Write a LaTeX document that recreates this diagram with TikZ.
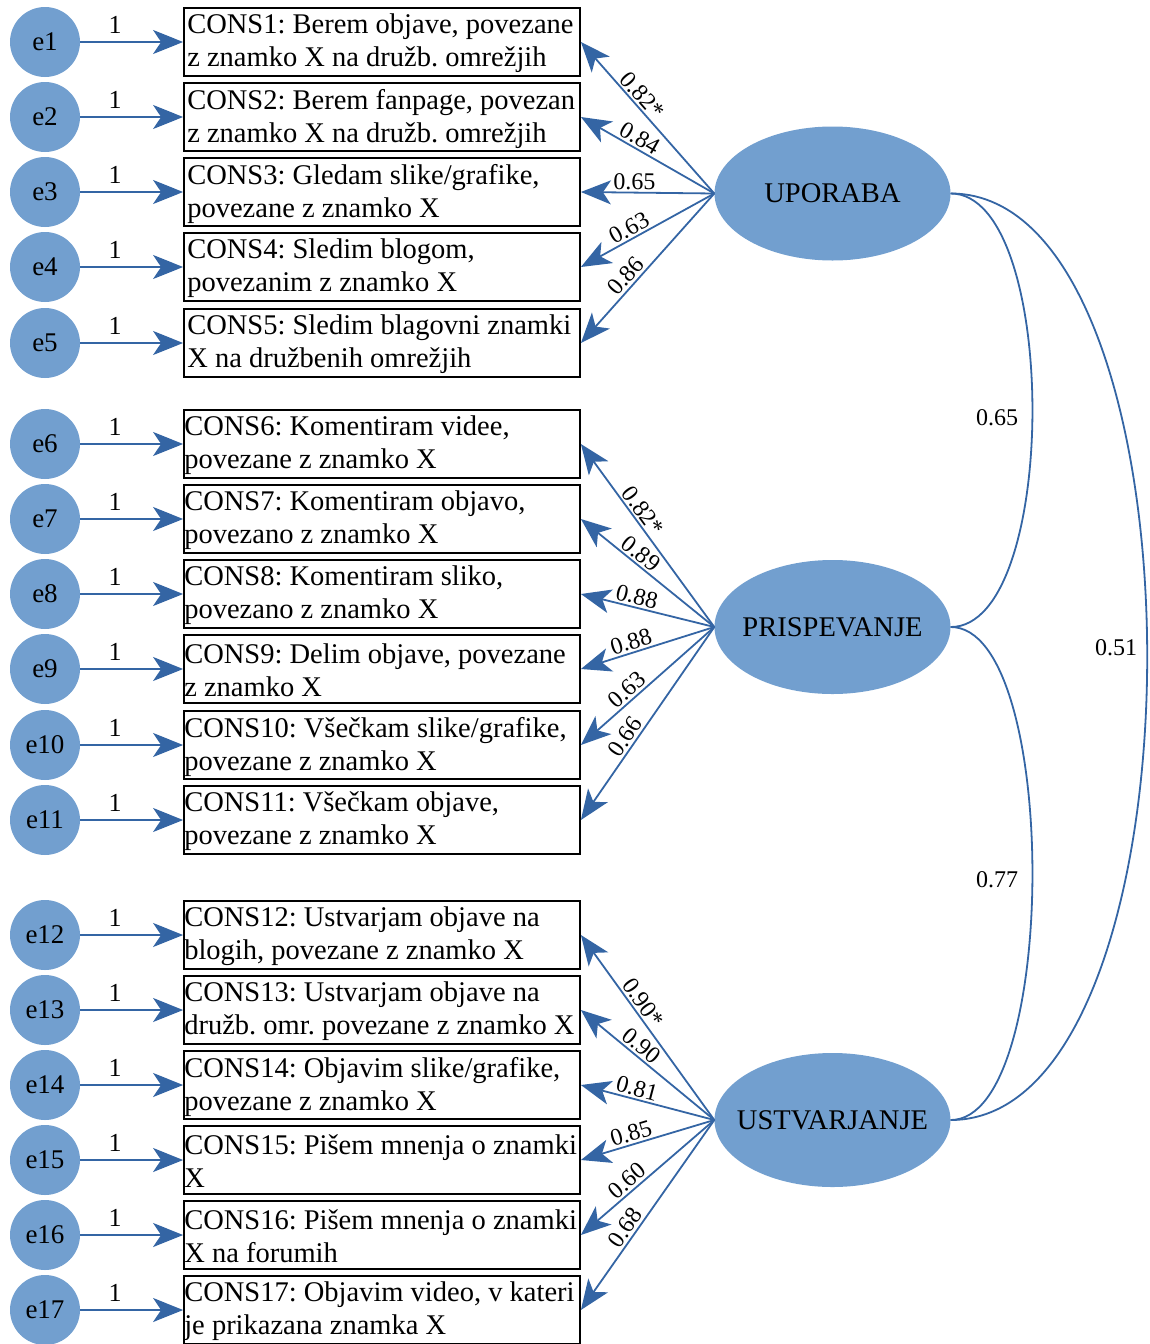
\documentclass[tikz,border=0pt]{standalone}
\usepackage{fontspec}
\setmainfont{Liberation Serif}
\usetikzlibrary{arrows.meta,shapes.geometric}
\definecolor{lineblue}{HTML}{3465A4}
\definecolor{fillblue}{HTML}{729FCF}
\begin{document}
\frenchspacing
\begin{tikzpicture}[x=1pt,y=-1pt,
 errc/.style={circle,fill=fillblue,minimum size=70pt,inner sep=0pt,font=\fontsize{27}{30}\selectfont},
 item/.style={draw=black,line width=1.8pt,minimum width=396pt,minimum height=68pt,inner sep=0pt},
 itext/.style={anchor=west,align=left,inner sep=0pt,font=\fontsize{28.5}{33}\selectfont\frenchspacing},
 latent/.style={ellipse,fill=fillblue,minimum width=236pt,minimum height=134pt,inner sep=0pt},
 ltext/.style={inner sep=0pt,font=\fontsize{28.5}{30}\selectfont},
 arr/.style={draw=lineblue,line width=1.8pt,-{Stealth[length=30pt,width=24pt,inset=8pt]}},
 cov/.style={draw=lineblue,line width=1.8pt},
 lab/.style={font=\fontsize{24}{26}\selectfont,inner sep=2pt},
 one/.style={font=\fontsize{26}{28}\selectfont,inner sep=0pt}
]
\useasboundingbox (0,0) rectangle (1150,1344);

% latent variables
\node[latent] (U) at (832.5,193.5) {};
\node[latent] (P) at (832.5,627) {};
\node[latent] (S) at (832.5,1120) {};
\node[ltext] (Ut) at (U.center) {UPORABA};
\node[ltext] (Pt) at (P.center) {PRISPEVANJE};
\node[ltext] (St) at (S.center) {USTVARJANJE};

% items
\node[item] (c1) at (382,42) {};
\node[item] (c2) at (382,117) {};
\node[item] (c3) at (382,192) {};
\node[item] (c4) at (382,267) {};
\node[item] (c5) at (382,343) {};
\node[item] (c6) at (382,444) {};
\node[item] (c7) at (382,519) {};
\node[item] (c8) at (382,594) {};
\node[item] (c9) at (382,669) {};
\node[item] (c10) at (382,745) {};
\node[item] (c11) at (382,820) {};
\node[item] (c12) at (382,935) {};
\node[item] (c13) at (382,1010) {};
\node[item] (c14) at (382,1085) {};
\node[item] (c15) at (382,1160) {};
\node[item] (c16) at (382,1235) {};
\node[item] (c17) at (382,1310) {};

\node[itext] (t1) at ([xshift=4pt,yshift=-1.5pt]c1.west) {CONS1: Berem objave, povezane\\z znamko X na družb. omrežjih};
\node[itext] (t2) at ([xshift=4pt,yshift=-1.5pt]c2.west) {CONS2: Berem fanpage, povezan\\z znamko X na družb. omrežjih};
\node[itext] (t3) at ([xshift=4pt,yshift=-1.5pt]c3.west) {CONS3: Gledam slike/grafike,\\povezane z znamko X};
\node[itext] (t4) at ([xshift=4pt,yshift=-1.5pt]c4.west) {CONS4: Sledim blogom,\\povezanim z znamko X};
\node[itext] (t5) at ([xshift=4pt,yshift=-1.5pt]c5.west) {CONS5: Sledim blagovni znamki\\X na družbenih omrežjih};
\node[itext] (t6) at ([xshift=1pt,yshift=-1.5pt]c6.west) {CONS6: Komentiram videe,\\povezane z znamko X};
\node[itext] (t7) at ([xshift=1pt,yshift=-1.5pt]c7.west) {CONS7: Komentiram objavo,\\povezano z znamko X};
\node[itext] (t8) at ([xshift=1pt,yshift=-1.5pt]c8.west) {CONS8: Komentiram sliko,\\povezano z znamko X};
\node[itext] (t9) at ([xshift=1pt,yshift=-1.5pt]c9.west) {CONS9: Delim objave, povezane\\z znamko X};
\node[itext] (t10) at ([xshift=1pt,yshift=-1.5pt]c10.west) {CONS10: Všečkam slike/grafike,\\povezane z znamko X};
\node[itext] (t11) at ([xshift=1pt,yshift=-1.5pt]c11.west) {CONS11: Všečkam objave,\\povezane z znamko X};
\node[itext] (t12) at ([xshift=1pt,yshift=-1.5pt]c12.west) {CONS12: Ustvarjam objave na\\blogih, povezane z znamko X};
\node[itext] (t13) at ([xshift=1pt,yshift=-1.5pt]c13.west) {CONS13: Ustvarjam objave na\\družb. omr. povezane z znamko X};
\node[itext] (t14) at ([xshift=1pt,yshift=-1.5pt]c14.west) {CONS14: Objavim slike/grafike,\\povezane z znamko X};
\node[itext] (t15) at ([xshift=1pt,yshift=-1.5pt]c15.west) {CONS15: Pišem mnenja o znamki\\X};
\node[itext] (t16) at ([xshift=1pt,yshift=-1.5pt]c16.west) {CONS16: Pišem mnenja o znamki\\X na forumih};
\node[itext] (t17) at ([xshift=1pt,yshift=-1.5pt]c17.west) {CONS17: Objavim video, v kateri\\je prikazana znamka X};

% error terms
\foreach \i in {1,...,17}{
  \path (c\i.center) -- ++(-337,0) node[errc] (e\i) {e\i};
  \draw[arr] (e\i.east) -- (c\i.west) node[one,pos=0.34,above=8pt] {1};
}

% loadings
\draw[arr] (U.west) -- (c1.east) node[lab,pos=0.6,sloped,above] {0.82*};
\draw[arr] (U.west) -- (c2.east) node[lab,pos=0.6,sloped,above] {0.84};
\draw[arr] (U.west) -- (c3.east) node[lab,pos=0.6,sloped,above] {0.65};
\draw[arr] (U.west) -- (c4.east) node[lab,pos=0.6,sloped,above] {0.63};
\draw[arr] (U.west) -- (c5.east) node[lab,pos=0.6,sloped,above] {0.86};

\draw[arr] (P.west) -- (c6.east) node[lab,pos=0.6,sloped,above] {0.82*};
\draw[arr] (P.west) -- (c7.east) node[lab,pos=0.6,sloped,above] {0.89};
\draw[arr] (P.west) -- (c8.east) node[lab,pos=0.6,sloped,above] {0.88};
\draw[arr] (P.west) -- (c9.east) node[lab,pos=0.6,sloped,above] {0.88};
\draw[arr] (P.west) -- (c10.east) node[lab,pos=0.6,sloped,above] {0.63};
\draw[arr] (P.west) -- (c11.east) node[lab,pos=0.6,sloped,above] {0.66};

\draw[arr] (S.west) -- (c12.east) node[lab,pos=0.6,sloped,above] {0.90*};
\draw[arr] (S.west) -- (c13.east) node[lab,pos=0.6,sloped,above] {0.90};
\draw[arr] (S.west) -- (c14.east) node[lab,pos=0.6,sloped,above] {0.81};
\draw[arr] (S.west) -- (c15.east) node[lab,pos=0.6,sloped,above] {0.85};
\draw[arr] (S.west) -- (c16.east) node[lab,pos=0.6,sloped,above] {0.60};
\draw[arr] (S.west) -- (c17.east) node[lab,pos=0.6,sloped,above] {0.68};

% covariances
\draw[cov] (U.east) .. controls +(109,0) and +(109,0) .. (P.east);
\draw[cov] (P.east) .. controls +(109,0) and +(109,0) .. (S.east);
\draw[cov] (U.east) .. controls +(262,0) and +(262,0) .. (S.east);
\node[lab] (k1) at (997,418) {0.65};
\node[lab] (k2) at (997,880) {0.77};
\node[lab] (k3) at (1116,648) {0.51};
\end{tikzpicture}
\end{document}
